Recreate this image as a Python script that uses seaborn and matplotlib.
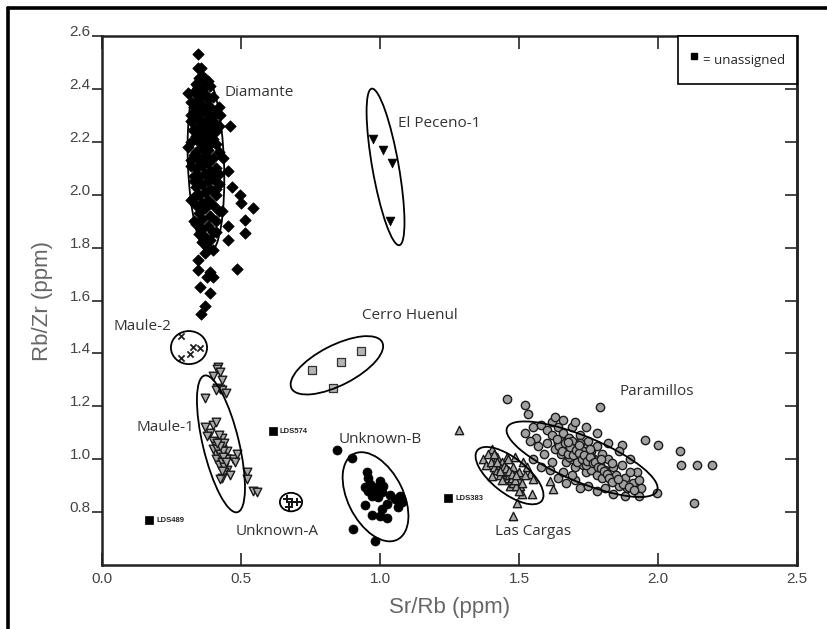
import numpy as np
import pandas as pd
import matplotlib
matplotlib.use("Agg")
import matplotlib.pyplot as plt
import seaborn as sns
from matplotlib.patches import Ellipse
from matplotlib.lines import Line2D

# data (Sr/Rb vs Rb/Zr)
diamante_x = [0.345, 0.345, 0.355, 0.36, 0.35, 0.37, 0.38, 0.34, 0.39, 0.36, 0.33, 0.31, 0.37, 0.35,
              0.40, 0.38, 0.34, 0.36, 0.33, 0.39, 0.37, 0.35, 0.41, 0.424, 0.38, 0.34, 0.36, 0.32,
              0.40, 0.37, 0.46, 0.35, 0.39, 0.33, 0.41, 0.36, 0.38, 0.34, 0.37, 0.40, 0.32, 0.35,
              0.39, 0.36, 0.31, 0.38, 0.34, 0.42, 0.37, 0.33, 0.40, 0.435, 0.35, 0.38, 0.36, 0.32,
              0.41, 0.34, 0.39, 0.453, 0.37, 0.35, 0.33, 0.40, 0.38, 0.36, 0.42, 0.468, 0.34, 0.39,
              0.37, 0.35, 0.496, 0.41, 0.33, 0.38, 0.36, 0.50, 0.40, 0.34, 0.543, 0.37, 0.43, 0.35,
              0.39, 0.36, 0.514, 0.41, 0.34, 0.38, 0.453, 0.36, 0.40, 0.514, 0.35, 0.37, 0.39, 0.453,
              0.36, 0.38, 0.40, 0.37, 0.485, 0.345, 0.345, 0.388, 0.378, 0.40, 0.352, 0.388, 0.37, 0.356,
              0.32, 0.42, 0.33, 0.41, 0.32, 0.42, 0.33, 0.41, 0.32, 0.42, 0.33, 0.41, 0.32, 0.42]
diamante_y = [2.53, 2.48, 2.48, 2.45, 2.44, 2.43, 2.43, 2.42, 2.41, 2.40, 2.39, 2.385, 2.38, 2.37,
              2.37, 2.36, 2.35, 2.34, 2.33, 2.33, 2.32, 2.31, 2.31, 2.30, 2.30, 2.29, 2.28, 2.28,
              2.28, 2.27, 2.26, 2.26, 2.25, 2.25, 2.24, 2.24, 2.23, 2.22, 2.21, 2.21, 2.20, 2.20,
              2.19, 2.18, 2.18, 2.17, 2.16, 2.16, 2.15, 2.15, 2.14, 2.14, 2.13, 2.12, 2.11, 2.11,
              2.10, 2.10, 2.09, 2.09, 2.08, 2.07, 2.07, 2.06, 2.05, 2.04, 2.04, 2.03, 2.03, 2.02,
              2.01, 2.00, 2.00, 2.00, 1.99, 1.98, 1.97, 1.97, 1.96, 1.96, 1.95, 1.95, 1.94, 1.93,
              1.92, 1.91, 1.905, 1.90, 1.89, 1.88, 1.88, 1.87, 1.86, 1.857, 1.85, 1.84, 1.83, 1.83,
              1.82, 1.80, 1.79, 1.78, 1.72, 1.755, 1.717, 1.706, 1.687, 1.69, 1.65, 1.63, 1.578, 1.55,
              2.35, 2.33, 2.24, 2.19, 2.13, 2.08, 2.05, 2.02, 1.98, 1.94, 1.90, 1.86, 2.30, 2.26]

peceno_x = [0.975, 1.01, 1.043, 1.036]
peceno_y = [2.21, 2.17, 2.12, 1.90]

maule2_x = [0.284, 0.327, 0.353, 0.317, 0.284]
maule2_y = [1.464, 1.426, 1.419, 1.396, 1.381]

maule1_x = [0.417, 0.414, 0.424, 0.40, 0.432, 0.37, 0.414, 0.424, 0.432, 0.446, 0.41,
            0.37, 0.40, 0.41, 0.39, 0.378, 0.40, 0.42, 0.41, 0.43, 0.42, 0.44, 0.41, 0.43,
            0.45, 0.42, 0.44, 0.43, 0.45, 0.44, 0.46, 0.43, 0.41, 0.40, 0.47, 0.48, 0.45,
            0.43, 0.42, 0.44, 0.486, 0.52, 0.52, 0.545, 0.557, 0.424,
            0.415, 0.425, 0.435, 0.445, 0.42, 0.43, 0.44, 0.425, 0.435, 0.415, 0.445, 0.43]
maule1_y = [1.347, 1.34, 1.33, 1.315, 1.30, 1.23, 1.27, 1.265, 1.26, 1.25, 1.26,
            1.12, 1.13, 1.14, 1.10, 1.087, 1.07, 1.06, 1.05, 1.04, 1.03, 1.02, 1.02, 1.01,
            1.00, 0.99, 0.98, 0.97, 0.96, 0.95, 0.94, 0.93, 1.00, 1.04, 1.00, 0.99, 1.03,
            1.08, 1.09, 1.06, 1.02, 0.95, 0.925, 0.88, 0.876, 0.925,
            1.04, 1.02, 1.03, 1.00, 0.98, 0.99, 0.97, 1.05, 1.01, 1.06, 0.99, 0.955]

cerro_x = [0.755, 0.86, 0.93, 0.83]
cerro_y = [1.336, 1.366, 1.41, 1.268]

unk_a_x = [0.665, 0.685, 0.70, 0.672]
unk_a_y = [0.85, 0.838, 0.84, 0.82]

unk_b_x = [0.845, 0.90, 0.953, 0.957, 1.0, 0.946, 0.982, 1.01, 1.036, 1.072, 1.079, 0.971, 0.993,
           0.946, 1.025, 1.007, 1.065, 0.971, 1.0, 1.025, 0.957, 0.99, 1.007, 0.903, 0.982, 1.054, 0.964]
unk_b_y = [1.034, 1.003, 0.95, 0.93, 0.917, 0.894, 0.88, 0.898, 0.864, 0.86, 0.84, 0.86, 0.857,
           0.826, 0.83, 0.81, 0.819, 0.79, 0.785, 0.777, 0.88, 0.894, 0.875, 0.736, 0.69, 0.85, 0.905]

cargas_x = [1.284, 1.403, 1.493, 1.478, 1.547, 1.504, 1.612, 1.622, 1.54, 1.55, 1.37, 1.403, 1.468,
            1.42, 1.457, 1.486, 1.514, 1.53, 1.38, 1.40, 1.41, 1.42, 1.43, 1.44, 1.44, 1.45, 1.45,
            1.46, 1.46, 1.47, 1.47, 1.48, 1.48, 1.49, 1.49, 1.50, 1.50, 1.43, 1.42, 1.46, 1.51,
            1.52, 1.39, 1.41, 1.48, 1.44, 1.51, 1.50,
            1.435, 1.445, 1.455, 1.465, 1.475, 1.485, 1.445, 1.455, 1.465, 1.475, 1.43, 1.49]
cargas_y = [1.109, 1.038, 0.834, 0.785, 0.868, 0.898, 0.917, 0.887, 0.943, 0.925, 1.0, 0.936, 0.898,
            1.01, 1.01, 1.008, 0.99, 0.97, 0.98, 0.99, 0.97, 0.96, 0.98, 0.95, 0.99, 0.94, 0.97,
            0.93, 0.96, 0.92, 0.95, 0.94, 0.91, 0.93, 0.90, 0.92, 0.95, 0.94, 0.99, 1.0, 0.91,
            0.94, 1.02, 1.02, 0.97, 0.92, 0.87, 0.88,
            0.965, 0.96, 0.95, 0.94, 0.93, 0.92, 0.975, 0.965, 0.955, 0.945, 0.955, 0.94]

param_x = [1.457, 1.52, 1.532, 1.79, 1.953, 2.0, 2.08, 2.083, 2.14, 2.194, 2.13, 1.996, 1.87, 1.925,
           1.52, 1.55, 1.56, 1.58, 1.60, 1.60, 1.62, 1.62, 1.63, 1.64, 1.65, 1.65, 1.66, 1.67,
           1.67, 1.68, 1.68, 1.69, 1.69, 1.70, 1.70, 1.71, 1.72, 1.72, 1.73, 1.73, 1.74, 1.74,
           1.75, 1.75, 1.76, 1.76, 1.77, 1.78, 1.78, 1.79, 1.80, 1.80, 1.81, 1.82, 1.83, 1.84,
           1.85, 1.86, 1.87, 1.88, 1.89, 1.90, 1.91, 1.92, 1.93, 1.94, 1.93, 1.62, 1.59, 1.57,
           1.54, 1.61, 1.64, 1.67, 1.70, 1.72, 1.75, 1.78, 1.81, 1.84, 1.88, 1.66, 1.69, 1.63,
           1.66, 1.70, 1.74, 1.78, 1.82, 1.86, 1.90, 1.70, 1.71, 1.68, 1.73, 1.66, 1.69, 1.72,
           1.64, 1.76, 1.74, 1.58, 1.55,
           1.645, 1.655, 1.665, 1.675, 1.685, 1.695, 1.705, 1.715, 1.725, 1.735, 1.745, 1.755,
           1.765, 1.775, 1.785, 1.795, 1.805, 1.815, 1.825, 1.835, 1.635, 1.675, 1.715, 1.755,
           1.795, 1.835, 1.875, 1.895, 1.915, 1.855]
param_y = [1.226, 1.204, 1.17, 1.196, 1.072, 1.053, 1.03, 0.98, 0.977, 0.977, 0.834, 0.872, 1.053, 0.951,
           1.10, 1.12, 1.08, 1.13, 1.11, 1.06, 1.14, 1.09, 1.04, 1.12, 1.07, 1.02, 1.10, 1.05,
           0.99, 1.08, 1.03, 1.12, 1.00, 1.06, 0.97, 1.04, 1.09, 1.01, 0.98, 1.05, 1.02, 0.95,
           1.07, 0.99, 1.03, 0.96, 1.00, 0.94, 1.05, 0.98, 1.02, 0.93, 0.96, 1.00, 0.92, 0.97,
           0.94, 0.90, 0.98, 0.93, 0.89, 0.95, 0.91, 0.88, 0.92, 0.89, 0.86, 0.99, 1.02, 1.05,
           1.07, 0.96, 0.93, 0.91, 0.92, 0.89, 0.90, 0.88, 0.89, 0.87, 0.86, 0.95, 0.94, 1.16,
           1.15, 1.14, 1.12, 1.10, 1.06, 1.03, 1.00, 1.02, 0.99, 1.01, 1.03, 1.04, 1.07, 1.06,
           1.06, 1.01, 0.98, 0.97, 1.00,
           1.05, 1.03, 1.06, 1.02, 1.045, 1.015, 1.035, 1.025, 1.00, 1.015, 0.995, 1.01,
           0.985, 0.99, 0.97, 0.965, 0.955, 0.945, 0.93, 0.915, 1.075, 1.065, 1.055, 1.04,
           1.00, 0.985, 0.905, 0.895, 0.885, 0.925]

unassigned_names = ["LDS489", "LDS574", "LDS383"]
unassigned_x = [0.17, 0.615, 1.245]
unassigned_y = [0.77, 1.106, 0.853]

# group ellipses: centre x, centre y, major, minor, angle (deg)
ellipse_cx = [0.374, 1.02, 0.313, 0.428, 0.845, 0.68, 0.984, 1.466, 1.727]
ellipse_cy = [2.12, 2.105, 1.422, 1.058, 1.355, 0.838, 0.858, 0.938, 1.0]
ellipse_w = [0.68, 0.60, 0.125, 0.53, 0.37, 0.08, 0.36, 0.30, 0.59]
ellipse_h = [0.13, 0.095, 0.13, 0.13, 0.15, 0.07, 0.20, 0.13, 0.17]
ellipse_ang = [92, 99.5, 90, 102.8, 28.6, 0, 115, -40, -24]

group_labels = ["Diamante", "El Peceno-1", "Cerro Huenul", "Maule-2", "Maule-1",
                "Unknown-B", "Unknown-A", "Las Cargas", "Paramillos"]
label_x = [0.44, 1.065, 0.935, 0.04, 0.126, 0.85, 0.48, 1.414, 1.863]
label_y = [2.385, 2.27, 1.545, 1.50, 1.12, 1.075, 0.728, 0.725, 1.255]

frames = []
for name, xs, ys in [("Diamante", diamante_x, diamante_y), ("El Peceno-1", peceno_x, peceno_y),
                     ("Maule-2", maule2_x, maule2_y), ("Maule-1", maule1_x, maule1_y),
                     ("Cerro Huenul", cerro_x, cerro_y), ("Unknown-A", unk_a_x, unk_a_y),
                     ("Unknown-B", unk_b_x, unk_b_y), ("Las Cargas", cargas_x, cargas_y),
                     ("Paramillos", param_x, param_y), ("unassigned", unassigned_x, unassigned_y)]:
    frames.append(pd.DataFrame({"SrRb": xs, "RbZr": ys, "group": name}))
df = pd.concat(frames, ignore_index=True)

styles = {
    "Diamante": dict(marker="D", s=34, color="black", edgecolor="black", linewidth=0.5),
    "El Peceno-1": dict(marker="v", s=40, color="black", edgecolor="black", linewidth=0.5),
    "Maule-2": dict(marker="x", s=20, color="#222222", linewidth=1.3),
    "Maule-1": dict(marker="v", s=38, color="#a8a8a8", edgecolor="#1a1a1a", linewidth=1.0),
    "Cerro Huenul": dict(marker="s", s=36, color="#b5b5b5", edgecolor="#333333", linewidth=0.9),
    "Unknown-A": dict(marker="+", s=28, color="#111111", linewidth=1.4),
    "Unknown-B": dict(marker="o", s=42, color="black", edgecolor="black", linewidth=0.5),
    "Las Cargas": dict(marker="^", s=36, color="#a8a8a8", edgecolor="#1a1a1a", linewidth=1.0),
    "Paramillos": dict(marker="o", s=36, color="#a0a0a0", edgecolor="#1a1a1a", linewidth=1.0),
    "unassigned": dict(marker="s", s=28, color="black", edgecolor="black", linewidth=0.5),
}

sns.set_style("ticks")
plt.rcParams["font.family"] = ["Liberation Sans", "DejaVu Sans"]

fig = plt.figure(figsize=(8.27, 6.29), dpi=100)
ax = fig.add_axes([0.1233, 0.1017, 0.8404, 0.8411])

# one call per source group so each keeps its own marker
for g, st in styles.items():
    sub = df[df["group"] == g]
    sns.scatterplot(data=sub, x="SrRb", y="RbZr", ax=ax, legend=False, zorder=3, **st)

for cx, cy, w, h, a in zip(ellipse_cx, ellipse_cy, ellipse_w, ellipse_h, ellipse_ang):
    ax.add_patch(Ellipse((cx, cy), w, h, angle=a, fill=False, edgecolor="black", lw=1.3, zorder=4))

for t, lx, ly in zip(group_labels, label_x, label_y):
    ax.text(lx, ly, t, fontsize=11, color="#333333", family="Open Sans", va="center", ha="left")

for n, ux, uy in zip(unassigned_names, unassigned_x, unassigned_y):
    ax.annotate(n, (ux, uy), xytext=(5, 0), textcoords="offset points", fontsize=5.5,
                fontweight="bold", color="#222222", va="center")

ax.set_xlim(0, 2.5)
ax.set_ylim(0.6, 2.6)
ax.set_xticks([0.0, 0.5, 1.0, 1.5, 2.0, 2.5])
ax.set_yticks([0.8, 1.0, 1.2, 1.4, 1.6, 1.8, 2.0, 2.2, 2.4, 2.6])
ax.set_xticklabels(["0.0", "0.5", "1.0", "1.5", "2.0", "2.5"])
ax.set_yticklabels(["0.8", "1.0", "1.2", "1.4", "1.6", "1.8", "2.0", "2.2", "2.4", "2.6"])
ax.tick_params(axis="x", direction="in", top=True, length=9, width=1.2, labelsize=11,
               labelcolor="#444444", pad=5)
ax.tick_params(axis="y", direction="out", length=7, width=1.2, labelsize=11,
               labelcolor="#444444", pad=1)
for lab in ax.get_yticklabels():
    lab.set_verticalalignment("baseline")

sec = ax.secondary_yaxis("right")
sec.set_yticks([0.8, 1.0, 1.2, 1.4, 1.6, 1.8, 2.0, 2.2, 2.4])
sec.tick_params(direction="in", length=9, width=1.2, labelright=False)

for sp in ax.spines.values():
    sp.set_linewidth(1.8)
    sp.set_color("#222222")
sec.spines["right"].set_linewidth(1.8)

ax.set_xlabel("Sr/Rb (ppm)", fontsize=16, color="#666666", labelpad=8)
ax.set_ylabel("Rb/Zr (ppm)", fontsize=16, color="#666666", labelpad=12)

handle = Line2D([], [], marker="s", color="black", linestyle="none", markersize=5)
leg = ax.legend([handle], ["= unassigned"], loc="upper right", borderaxespad=0,
                frameon=True, fancybox=False, handletextpad=0.3,
                borderpad=0.9, handlelength=0.7, handleheight=2.4,
                prop={"family": "Open Sans", "size": 9.5})
leg.get_frame().set_edgecolor("black")
leg.get_frame().set_linewidth(1.2)
leg.get_frame().set_alpha(1)

# page frame (left and top edges)
fig.add_artist(Line2D([8 / 827, 8 / 827], [0, 1 - 8 / 629], color="black", lw=2.6,
                      transform=fig.transFigure))
fig.add_artist(Line2D([8 / 827, 1], [1 - 8 / 629, 1 - 8 / 629], color="black", lw=2.6,
                      transform=fig.transFigure))

fig.savefig("out.png", dpi=100)
